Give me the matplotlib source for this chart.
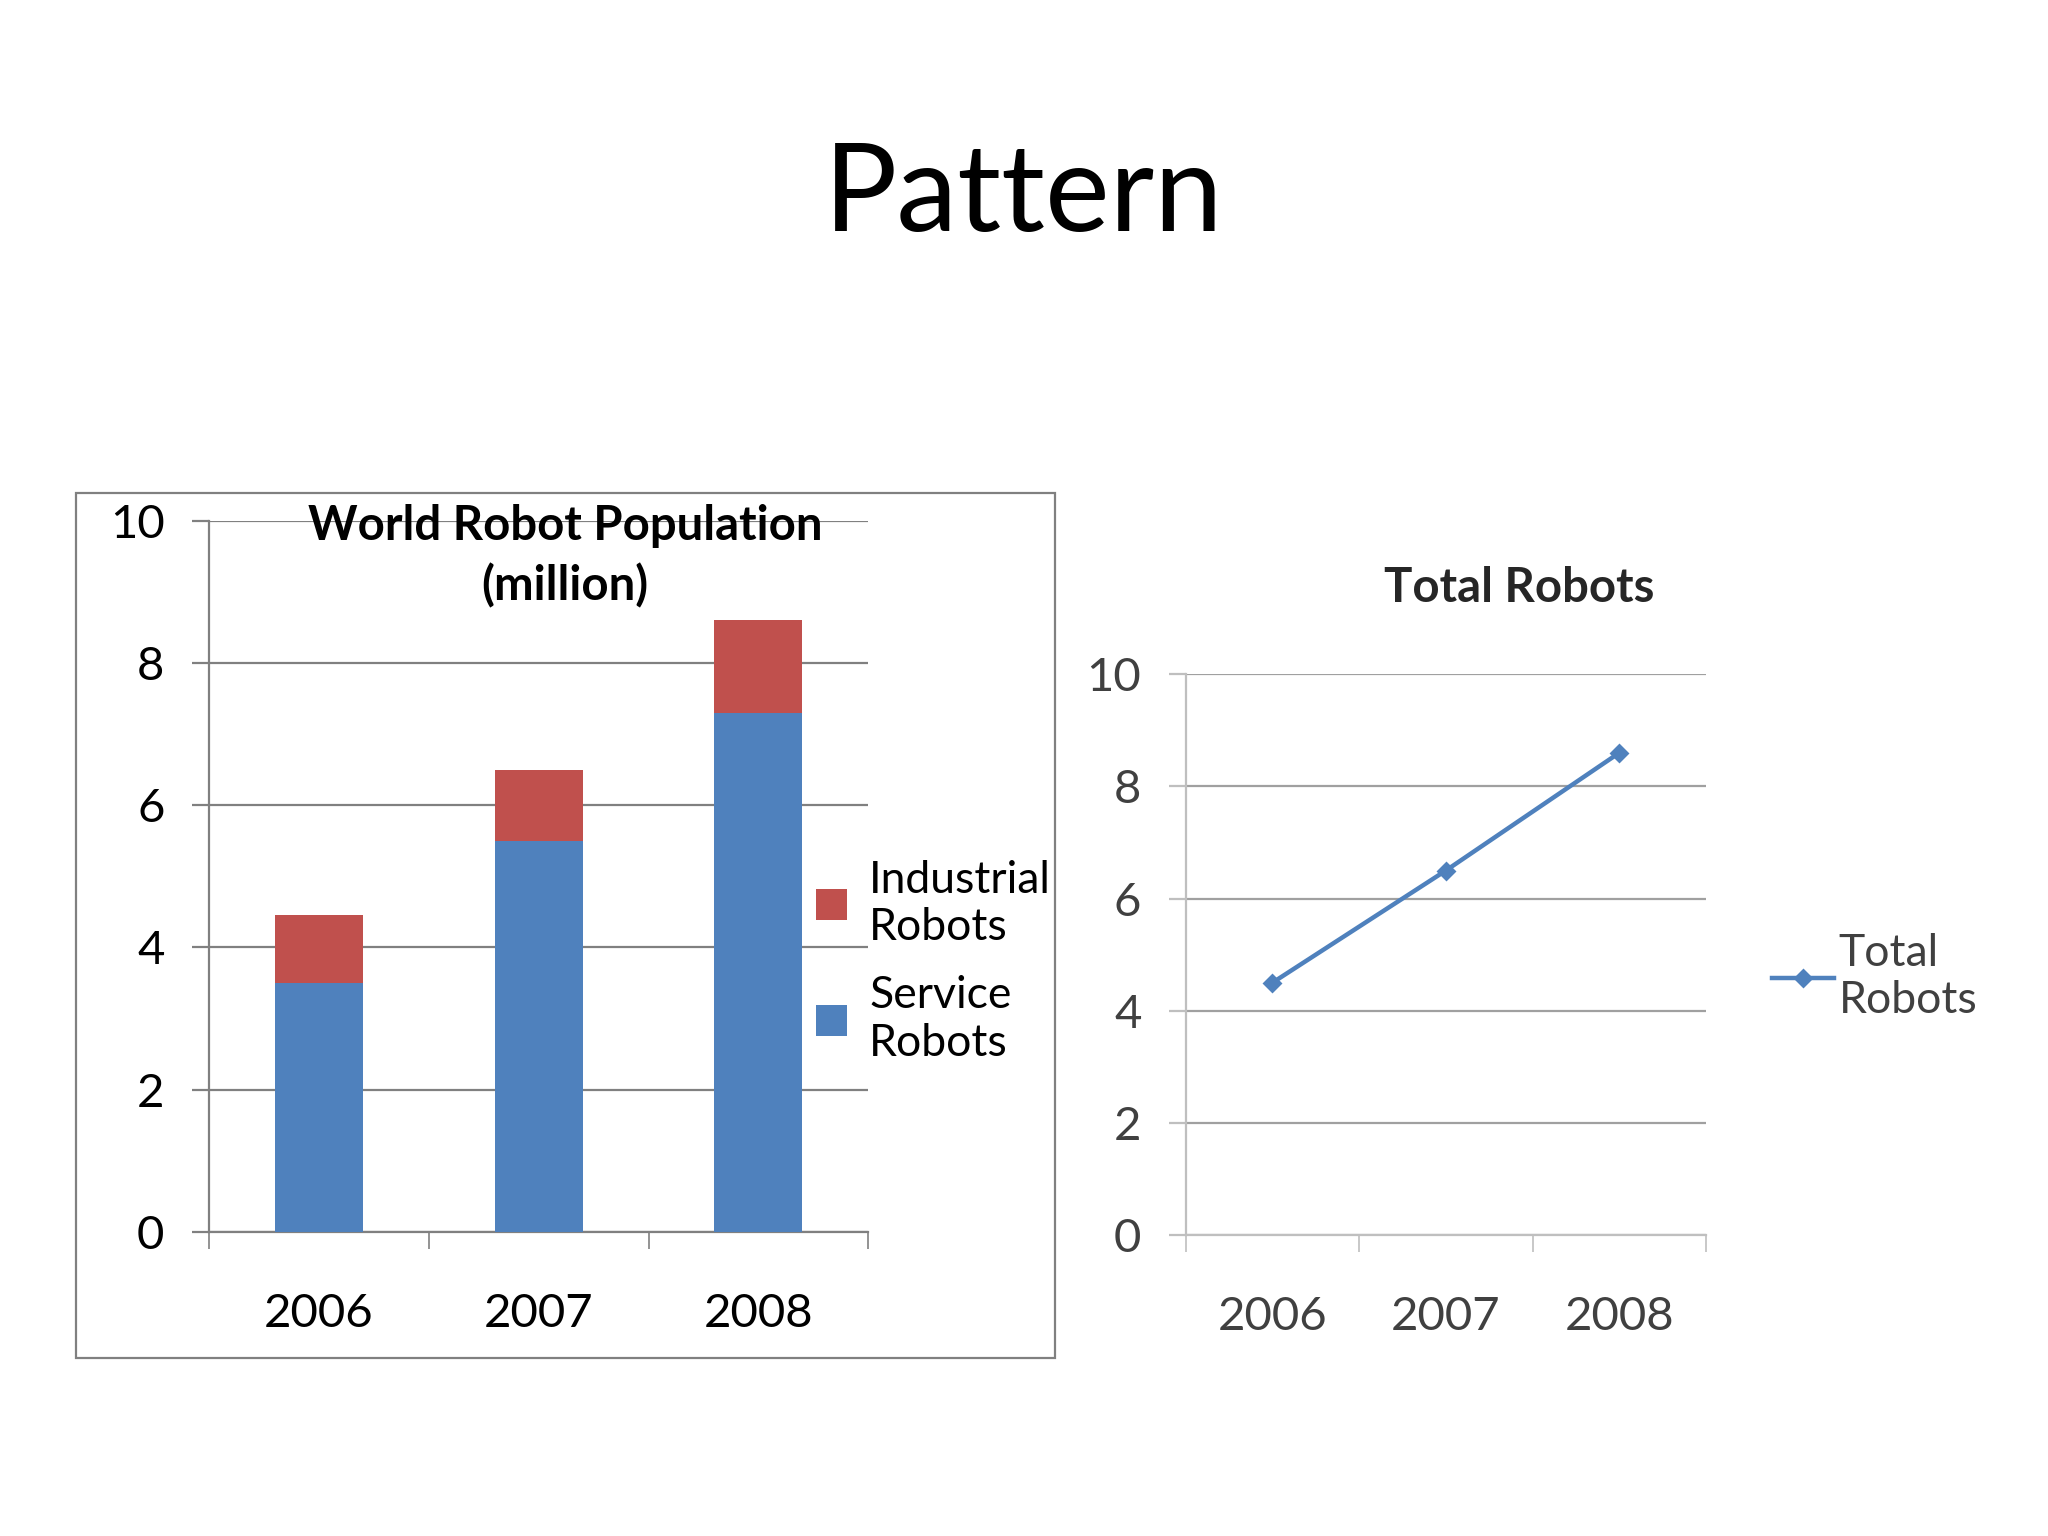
import matplotlib.pyplot as plt
from matplotlib.patches import Rectangle

plt.rcParams['font.family'] = ['Lato', 'DejaVu Sans']

years = ['2006', '2007', '2008']
service = [3.5, 5.5, 7.3]
industrial = [0.95, 1.0, 1.3]
total = [4.5, 6.5, 8.6]

blue = '#4F81BD'
red = '#C0504D'

fig = plt.figure(figsize=(10.24, 7.68), dpi=200)
fig.text(0.5, 0.872, 'Pattern', ha='center', va='center', fontsize=44)

# frame around left chart
fig.patches.append(Rectangle((0.037, 0.116), 0.478, 0.563, transform=fig.transFigure,
                             fill=False, edgecolor='#808080', linewidth=0.8))

# Left: stacked bars
ax1 = fig.add_axes([0.102, 0.198, 0.322, 0.463])
x = range(len(years))
ax1.bar(x, service, width=0.4, color=blue, label='Service\nRobots', zorder=3)
ax1.bar(x, industrial, bottom=service, width=0.4, color=red, label='Industrial\nRobots', zorder=3)
ax1.set_xlim(-0.5, 2.5)
ax1.set_ylim(0, 10)
ax1.set_yticks(range(0, 11, 2))
ax1.set_xticks(list(x))
ax1.set_xticklabels(years)
ax1.set_xticks([-0.5, 0.5, 1.5, 2.5], minor=True)
ax1.tick_params(axis='x', which='major', length=0, pad=22, labelsize=17)
ax1.tick_params(axis='x', which='minor', length=6, color='#808080')
ax1.tick_params(axis='y', length=6, color='#808080', labelsize=17, pad=10)
ax1.grid(axis='y', color='#808080', linewidth=0.8, zorder=0)
for s in ['top', 'right']:
    ax1.spines[s].set_visible(False)
for s in ['left', 'bottom']:
    ax1.spines[s].set_color('#808080')
ax1.text(0.54, 0.95, 'World Robot Population\n(million)', transform=ax1.transAxes,
         ha='center', va='center', fontsize=17, fontweight='bold', linespacing=1.4)
h, l = ax1.get_legend_handles_labels()
ax1.legend(h[::-1], l[::-1], loc='center left', bbox_to_anchor=(0.86, 0.38), frameon=False,
           fontsize=16, handlelength=0.7, handleheight=0.7, handletextpad=0.5,
           labelspacing=0.6)

# Right: line
ax2 = fig.add_axes([0.579, 0.196, 0.254, 0.365])
ax2.plot(range(len(years)), total, color=blue, marker='D', markersize=4, linewidth=1.6,
         label='Total\nRobots')
ax2.set_xlim(-0.5, 2.5)
ax2.set_ylim(0, 10)
ax2.set_yticks(range(0, 11, 2))
ax2.set_xticks(range(len(years)))
ax2.set_xticklabels(years)
ax2.set_xticks([-0.5, 0.5, 1.5, 2.5], minor=True)
ax2.tick_params(axis='x', which='major', length=0, pad=22, labelsize=17, labelcolor='#404040')
ax2.tick_params(axis='x', which='minor', length=6, color='#BFBFBF')
ax2.tick_params(axis='y', length=6, color='#BFBFBF', labelsize=17, pad=10, labelcolor='#404040')
ax2.grid(axis='y', color='#A0A0A0', linewidth=0.8)
for s in ['top', 'right']:
    ax2.spines[s].set_visible(False)
for s in ['left', 'bottom']:
    ax2.spines[s].set_color('#BFBFBF')
fig.text(0.742, 0.617, 'Total Robots', ha='center', va='center', fontsize=17,
         fontweight='bold', color='#262626')
ax2.legend(loc='center left', bbox_to_anchor=(1.05, 0.46), frameon=False, fontsize=16,
           handlelength=1.4, handletextpad=0.1, labelcolor='#404040')

fig.savefig('out.png', dpi=200)
